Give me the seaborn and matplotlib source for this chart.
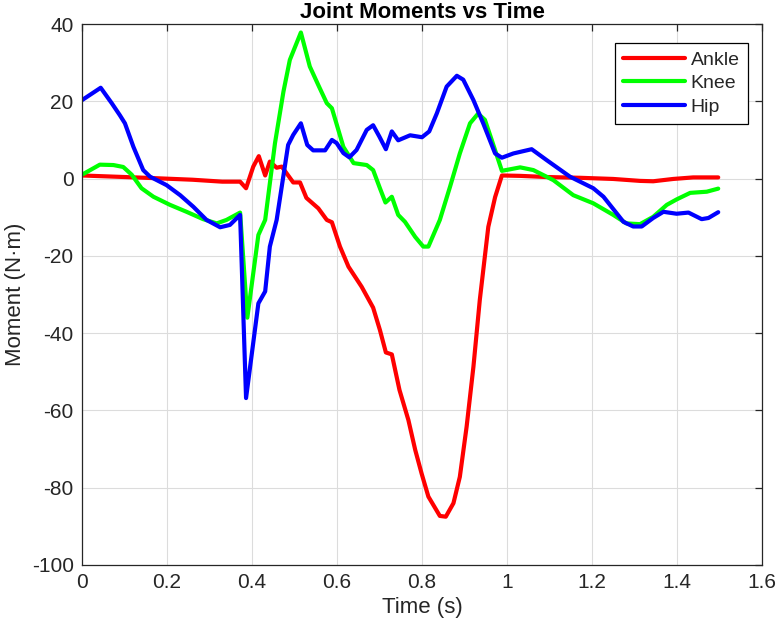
import numpy as np
import pandas as pd
import matplotlib
matplotlib.use("Agg")
import matplotlib.pyplot as plt
import seaborn as sns

# ---- data ----
ankle_t = [0.0, 0.05, 0.15, 0.26, 0.33, 0.372, 0.386, 0.403, 0.416, 0.431, 0.442, 0.458, 0.47,
           0.497, 0.513, 0.528, 0.556, 0.576, 0.588, 0.607, 0.627, 0.658, 0.685, 0.701, 0.715,
           0.729, 0.747, 0.768, 0.784, 0.799, 0.815, 0.842, 0.856, 0.874, 0.889, 0.905, 0.921,
           0.936, 0.956, 0.972, 0.988, 1.031, 1.093, 1.172, 1.25, 1.313, 1.344, 1.391, 1.438, 1.497]
ankle_m = [0.8, 0.6, 0.2, -0.3, -0.8, -0.8, -2.5, 3.1, 5.8, 0.8, 4.4, 2.8, 3.1,
           -1.0, -1.0, -5.0, -7.7, -10.7, -11.3, -17.6, -22.8, -28.0, -33.4, -39.2, -45.0,
           -45.5, -54.7, -62.5, -70.2, -76.3, -82.3, -87.3, -87.5, -84.0, -77.2, -64.2, -48.7,
           -31.4, -12.5, -4.8, 0.8, 0.7, 0.4, 0.2, -0.1, -0.6, -0.7, -0.1, 0.3, 0.3]

knee_t = [0.0, 0.042, 0.074, 0.097, 0.117, 0.14, 0.168, 0.207, 0.246, 0.285, 0.317, 0.34, 0.372,
          0.389, 0.415, 0.431, 0.454, 0.474, 0.489, 0.515, 0.536, 0.556, 0.576, 0.588, 0.615,
          0.639, 0.67, 0.685, 0.701, 0.714, 0.729, 0.744, 0.76, 0.784, 0.803, 0.815, 0.842,
          0.866, 0.889, 0.913, 0.932, 0.948, 0.964, 0.988, 1.031, 1.062, 1.109, 1.156, 1.203,
          1.25, 1.281, 1.313, 1.344, 1.376, 1.399, 1.431, 1.47, 1.497]
knee_m = [1.0, 3.6, 3.5, 3.0, 1.0, -2.5, -4.7, -6.8, -8.6, -10.5, -11.6, -10.7, -8.8,
          -36.0, -14.6, -10.7, 9.1, 22.5, 30.7, 37.8, 29.0, 24.2, 19.5, 18.2, 8.2,
          4.0, 3.5, 2.2, -2.5, -6.2, -4.7, -9.4, -11.2, -15.1, -17.6, -17.6, -10.7,
          -2.1, 6.5, 14.3, 16.8, 15.2, 10.0, 2.0, 2.9, 2.2, -0.4, -4.3, -6.4,
          -9.4, -11.6, -11.8, -9.9, -6.8, -5.4, -3.7, -3.4, -2.6]

hip_t = [0.0, 0.044, 0.07, 0.089, 0.101, 0.121, 0.144, 0.16, 0.199, 0.231, 0.262, 0.293, 0.325,
         0.348, 0.372, 0.386, 0.415, 0.431, 0.442, 0.458, 0.485, 0.497, 0.515, 0.53, 0.544,
         0.572, 0.588, 0.599, 0.615, 0.629, 0.646, 0.67, 0.685, 0.70, 0.715, 0.729, 0.744,
         0.772, 0.80, 0.817, 0.835, 0.858, 0.882, 0.897, 0.921, 0.944, 0.972, 0.988, 1.015,
         1.058, 1.093, 1.148, 1.203, 1.227, 1.274, 1.297, 1.317, 1.344, 1.368, 1.399, 1.427,
         1.458, 1.474, 1.497]
hip_m = [20.3, 23.5, 19.5, 16.4, 14.3, 8.2, 2.2, 0.5, -1.7, -4.3, -7.3, -10.7, -12.6,
         -12.0, -9.4, -56.8, -32.3, -29.2, -17.6, -10.7, 8.7, 11.3, 14.3, 8.7, 7.3,
         7.3, 10.0, 9.2, 6.6, 5.5, 7.4, 12.6, 13.8, 10.8, 7.6, 12.2, 9.9,
         11.2, 10.7, 12.2, 16.9, 23.8, 26.6, 25.6, 20.3, 14.3, 6.5, 5.4, 6.5,
         7.6, 4.8, 0.5, -2.5, -4.7, -11.2, -12.4, -12.4, -10.2, -8.6, -9.1, -8.8,
         -10.5, -10.2, -8.7]

labels = ["Ankle", "Knee", "Hip"]
colors = ["#ff0000", "#00ff00", "#0000ff"]

frames = []
for name, t, m in zip(labels, [ankle_t, knee_t, hip_t], [ankle_m, knee_m, hip_m]):
    frames.append(pd.DataFrame({"Time": t, "Moment": m, "Joint": name}))
df = pd.concat(frames, ignore_index=True)

sns.set_theme(style="white")
plt.rcParams['font.family'] = ['Liberation Sans', 'DejaVu Sans']
plt.rcParams['axes.unicode_minus'] = False

fig = plt.figure(figsize=(7.78, 6.32), dpi=100)
ax = fig.add_axes([82 / 778, 1 - 565 / 632, (762 - 82) / 778, (565 - 24) / 632])

sns.lineplot(data=df, x="Time", y="Moment", hue="Joint", hue_order=labels,
             palette=colors, linewidth=3.0, sort=False, estimator=None, ax=ax)

ax.set_xlim(0, 1.6)
ax.set_ylim(-100, 40)
ax.set_xticks(np.arange(0, 1.61, 0.2))
ax.set_xticklabels(["0", "0.2", "0.4", "0.6", "0.8", "1", "1.2", "1.4", "1.6"])
ax.set_yticks(np.arange(-100, 41, 20))
ax.grid(True, color="#dcdcdc", linewidth=0.8)
ax.set_axisbelow(True)
for s in ax.spines.values():
    s.set_visible(True)
    s.set_color("#262626")
    s.set_linewidth(0.9)
ax.tick_params(direction="in", length=5, width=0.9, colors="#262626",
               labelsize=15, top=True, right=True, pad=6)
for lab in ax.get_xticklabels() + ax.get_yticklabels():
    lab.set_color("#262626")

ax.set_xlabel("Time (s)", fontsize=16, color="#262626", labelpad=3)
ax.set_ylabel("Moment (N·m)", fontsize=16, color="#262626", labelpad=4)
ax.set_title("Joint Moments vs Time", fontsize=16, fontweight="bold", color="black", pad=4)

leg = ax.legend(loc="upper right", bbox_to_anchor=(0.993, 0.982), fontsize=14,
                frameon=True, fancybox=False, edgecolor="black", framealpha=1,
                handlelength=3.2, handletextpad=0.3, borderpad=0.4, labelspacing=0.3,
                borderaxespad=0.5)
leg.get_frame().set_linewidth(0.9)
for line in leg.get_lines():
    line.set_linewidth(3.0)

fig.savefig("out.png", dpi=100)
